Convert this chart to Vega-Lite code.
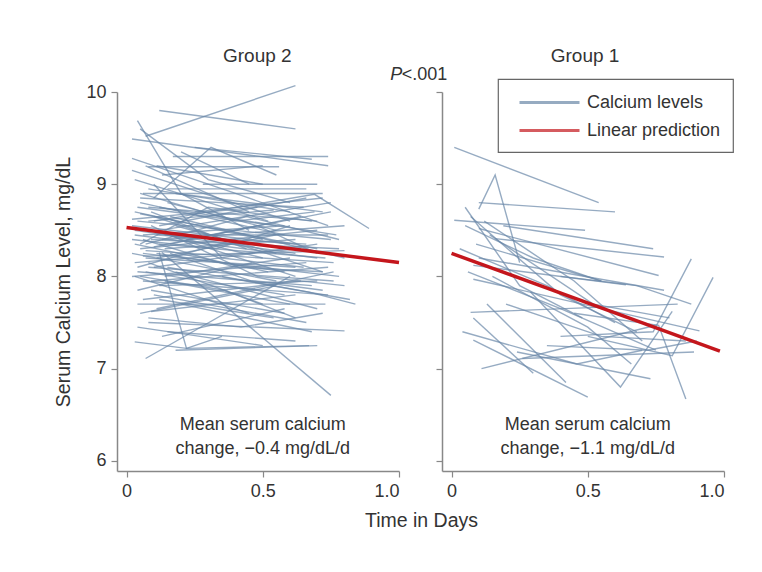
{
  "$schema": "https://vega.github.io/schema/vega-lite/v6.json",
  "padding": {"left": 53, "top": 47, "right": 20, "bottom": 40},
  "background": "white",
  "datasets": {
    "g2": [
      {"id":1,"t":0.07,"v":9.52},{"id":1,"t":0.62,"v":10.07},
      {"id":2,"t":0.12,"v":9.80},{"id":2,"t":0.62,"v":9.60},
      {"id":3,"t":0.04,"v":9.69},{"id":3,"t":0.20,"v":8.90},{"id":3,"t":0.45,"v":8.50},
      {"id":4,"t":0.02,"v":9.49},{"id":4,"t":0.74,"v":9.20},
      {"id":5,"t":0.17,"v":9.30},{"id":5,"t":0.74,"v":9.30},
      {"id":6,"t":0.05,"v":9.60},{"id":6,"t":0.30,"v":9.05},{"id":6,"t":0.60,"v":8.80},
      {"id":7,"t":0.08,"v":9.19},{"id":7,"t":0.56,"v":9.19},
      {"id":8,"t":0.02,"v":9.28},{"id":8,"t":0.40,"v":8.90},{"id":8,"t":0.74,"v":8.55},
      {"id":9,"t":0.10,"v":8.85},{"id":9,"t":0.31,"v":9.40},{"id":9,"t":0.55,"v":9.10},
      {"id":10,"t":0.02,"v":9.15},{"id":10,"t":0.60,"v":8.60},
      {"id":11,"t":0.06,"v":8.90},{"id":11,"t":0.72,"v":8.90},
      {"id":12,"t":0.10,"v":8.60},{"id":12,"t":0.69,"v":8.89},{"id":12,"t":0.89,"v":8.52},
      {"id":13,"t":0.03,"v":8.70},{"id":13,"t":0.50,"v":8.40},
      {"id":14,"t":0.05,"v":8.85},{"id":14,"t":0.65,"v":8.75},
      {"id":15,"t":0.08,"v":8.75},{"id":15,"t":0.70,"v":8.60},
      {"id":16,"t":0.12,"v":8.55},{"id":16,"t":0.66,"v":8.85},
      {"id":17,"t":0.04,"v":8.60},{"id":17,"t":0.75,"v":8.40},
      {"id":18,"t":0.06,"v":8.45},{"id":18,"t":0.58,"v":8.55},
      {"id":19,"t":0.03,"v":8.50},{"id":19,"t":0.62,"v":8.25},
      {"id":20,"t":0.09,"v":8.40},{"id":20,"t":0.78,"v":8.30},
      {"id":21,"t":0.15,"v":8.80},{"id":21,"t":0.55,"v":8.50},
      {"id":22,"t":0.05,"v":8.30},{"id":22,"t":0.70,"v":8.50},
      {"id":23,"t":0.07,"v":8.20},{"id":23,"t":0.62,"v":8.10},
      {"id":24,"t":0.12,"v":8.35},{"id":24,"t":0.73,"v":8.20},
      {"id":25,"t":0.02,"v":8.25},{"id":25,"t":0.55,"v":7.95},
      {"id":26,"t":0.10,"v":8.10},{"id":26,"t":0.70,"v":8.35},
      {"id":27,"t":0.04,"v":8.05},{"id":27,"t":0.68,"v":7.90},
      {"id":28,"t":0.14,"v":8.00},{"id":28,"t":0.60,"v":8.20},
      {"id":29,"t":0.06,"v":7.95},{"id":29,"t":0.74,"v":7.80},
      {"id":30,"t":0.08,"v":8.15},{"id":30,"t":0.50,"v":7.70},
      {"id":31,"t":0.13,"v":8.26},{"id":31,"t":0.75,"v":6.71},
      {"id":32,"t":0.03,"v":7.29},{"id":32,"t":0.22,"v":7.22},{"id":32,"t":0.67,"v":7.25},
      {"id":33,"t":0.08,"v":7.50},{"id":33,"t":0.80,"v":7.41},
      {"id":34,"t":0.04,"v":7.70},{"id":34,"t":0.73,"v":7.70},
      {"id":35,"t":0.12,"v":8.26},{"id":35,"t":0.22,"v":7.22},{"id":35,"t":0.35,"v":7.35},
      {"id":36,"t":0.35,"v":8.00},{"id":36,"t":0.67,"v":7.83},{"id":36,"t":0.84,"v":7.70},
      {"id":37,"t":0.07,"v":7.11},{"id":37,"t":0.60,"v":8.00},
      {"id":38,"t":0.10,"v":7.80},{"id":38,"t":0.66,"v":7.50},
      {"id":39,"t":0.05,"v":7.60},{"id":39,"t":0.55,"v":7.90},
      {"id":40,"t":0.15,"v":7.40},{"id":40,"t":0.62,"v":7.30},
      {"id":41,"t":0.09,"v":7.85},{"id":41,"t":0.58,"v":7.60},
      {"id":42,"t":0.18,"v":7.20},{"id":42,"t":0.70,"v":7.25},
      {"id":43,"t":0.03,"v":8.00},{"id":43,"t":0.45,"v":7.60},
      {"id":44,"t":0.11,"v":7.65},{"id":44,"t":0.76,"v":8.05},
      {"id":45,"t":0.06,"v":8.40},{"id":45,"t":0.40,"v":8.10},{"id":45,"t":0.72,"v":8.05},
      {"id":46,"t":0.16,"v":8.65},{"id":46,"t":0.80,"v":8.20},
      {"id":47,"t":0.02,"v":8.62},{"id":47,"t":0.48,"v":8.75},
      {"id":48,"t":0.08,"v":8.95},{"id":48,"t":0.60,"v":8.70},
      {"id":49,"t":0.13,"v":9.10},{"id":49,"t":0.50,"v":9.20},
      {"id":50,"t":0.20,"v":9.35},{"id":50,"t":0.45,"v":9.00},
      {"id":51,"t":0.05,"v":8.35},{"id":51,"t":0.30,"v":8.75},{"id":51,"t":0.68,"v":8.60},
      {"id":52,"t":0.10,"v":8.50},{"id":52,"t":0.62,"v":8.00},
      {"id":53,"t":0.03,"v":8.15},{"id":53,"t":0.64,"v":8.30},
      {"id":54,"t":0.07,"v":8.05},{"id":54,"t":0.58,"v":7.80},
      {"id":55,"t":0.12,"v":7.90},{"id":55,"t":0.70,"v":7.95},
      {"id":56,"t":0.04,"v":7.85},{"id":56,"t":0.46,"v":8.15},
      {"id":57,"t":0.14,"v":8.45},{"id":57,"t":0.74,"v":8.45},
      {"id":58,"t":0.09,"v":8.70},{"id":58,"t":0.44,"v":8.30},
      {"id":59,"t":0.05,"v":8.80},{"id":59,"t":0.58,"v":8.45},
      {"id":60,"t":0.18,"v":8.90},{"id":60,"t":0.72,"v":8.70},
      {"id":61,"t":0.03,"v":9.05},{"id":61,"t":0.52,"v":8.60},
      {"id":62,"t":0.10,"v":9.00},{"id":62,"t":0.35,"v":8.20},{"id":62,"t":0.65,"v":8.10},
      {"id":63,"t":0.07,"v":8.28},{"id":63,"t":0.76,"v":8.15},
      {"id":64,"t":0.02,"v":8.40},{"id":64,"t":0.33,"v":8.30},{"id":64,"t":0.60,"v":8.55},
      {"id":65,"t":0.11,"v":8.20},{"id":65,"t":0.55,"v":8.45},
      {"id":66,"t":0.15,"v":8.10},{"id":66,"t":0.82,"v":7.75},
      {"id":67,"t":0.06,"v":7.75},{"id":67,"t":0.64,"v":7.95},
      {"id":68,"t":0.08,"v":7.55},{"id":68,"t":0.42,"v":7.45},{"id":68,"t":0.72,"v":7.60},
      {"id":69,"t":0.13,"v":7.35},{"id":69,"t":0.58,"v":7.65},
      {"id":70,"t":0.04,"v":7.45},{"id":70,"t":0.50,"v":7.25},
      {"id":71,"t":0.20,"v":7.70},{"id":71,"t":0.68,"v":7.40},
      {"id":72,"t":0.09,"v":8.55},{"id":72,"t":0.48,"v":8.00},{"id":72,"t":0.80,"v":7.90},
      {"id":73,"t":0.05,"v":8.68},{"id":73,"t":0.70,"v":8.30},
      {"id":74,"t":0.16,"v":8.35},{"id":74,"t":0.64,"v":8.65},
      {"id":75,"t":0.02,"v":8.55},{"id":75,"t":0.60,"v":8.35},
      {"id":76,"t":0.12,"v":8.75},{"id":76,"t":0.77,"v":8.45},
      {"id":77,"t":0.07,"v":9.20},{"id":77,"t":0.45,"v":8.70},
      {"id":78,"t":0.18,"v":8.55},{"id":78,"t":0.55,"v":8.25},
      {"id":79,"t":0.25,"v":8.70},{"id":79,"t":0.72,"v":8.85},
      {"id":80,"t":0.10,"v":8.32},{"id":80,"t":0.48,"v":8.55},{"id":80,"t":0.70,"v":8.25},
      {"id":81,"t":0.04,"v":8.10},{"id":81,"t":0.40,"v":8.40},
      {"id":82,"t":0.14,"v":7.95},{"id":82,"t":0.60,"v":7.70},
      {"id":83,"t":0.06,"v":8.25},{"id":83,"t":0.78,"v":8.00},
      {"id":84,"t":0.22,"v":8.40},{"id":84,"t":0.75,"v":8.70},
      {"id":85,"t":0.08,"v":8.60},{"id":85,"t":0.54,"v":8.72},
      {"id":86,"t":0.03,"v":8.35},{"id":86,"t":0.52,"v":8.05},
      {"id":87,"t":0.11,"v":8.45},{"id":87,"t":0.66,"v":8.35},
      {"id":88,"t":0.16,"v":8.25},{"id":88,"t":0.46,"v":7.95},{"id":88,"t":0.72,"v":7.85},
      {"id":89,"t":0.09,"v":7.95},{"id":89,"t":0.74,"v":8.10},
      {"id":90,"t":0.05,"v":8.00},{"id":90,"t":0.36,"v":7.85},{"id":90,"t":0.62,"v":7.55},
      {"id":91,"t":0.25,"v":9.40},{"id":91,"t":0.68,"v":9.27},
      {"id":92,"t":0.11,"v":9.20},{"id":92,"t":0.50,"v":9.00},
      {"id":93,"t":0.28,"v":9.00},{"id":93,"t":0.70,"v":9.00},
      {"id":94,"t":0.12,"v":8.50},{"id":94,"t":0.75,"v":8.80},
      {"id":95,"t":0.03,"v":8.45},{"id":95,"t":0.70,"v":8.20},
      {"id":96,"t":0.06,"v":8.22},{"id":96,"t":0.80,"v":8.28},
      {"id":97,"t":0.10,"v":8.65},{"id":97,"t":0.72,"v":8.05},
      {"id":98,"t":0.14,"v":8.30},{"id":98,"t":0.62,"v":8.40},
      {"id":99,"t":0.04,"v":8.75},{"id":99,"t":0.55,"v":8.55},
      {"id":100,"t":0.08,"v":8.10},{"id":100,"t":0.76,"v":7.95},
      {"id":101,"t":0.12,"v":7.75},{"id":101,"t":0.54,"v":7.55},
      {"id":102,"t":0.07,"v":8.35},{"id":102,"t":0.44,"v":8.65},{"id":102,"t":0.78,"v":8.40},
      {"id":103,"t":0.02,"v":8.00},{"id":103,"t":0.66,"v":8.15},
      {"id":104,"t":0.18,"v":8.05},{"id":104,"t":0.70,"v":7.65},
      {"id":105,"t":0.05,"v":8.90},{"id":105,"t":0.40,"v":8.60},{"id":105,"t":0.69,"v":8.70},
      {"id":106,"t":0.11,"v":8.25},{"id":106,"t":0.58,"v":8.05},
      {"id":107,"t":0.09,"v":7.62},{"id":107,"t":0.62,"v":7.80},
      {"id":108,"t":0.15,"v":8.95},{"id":108,"t":0.66,"v":8.95},
      {"id":109,"t":0.06,"v":8.52},{"id":109,"t":0.50,"v":8.20},
      {"id":110,"t":0.13,"v":8.40},{"id":110,"t":0.80,"v":8.55}
    ],
    "g1": [
      {"id":1,"t":0.01,"v":9.40},{"id":1,"t":0.54,"v":8.80},
      {"id":2,"t":0.10,"v":8.73},{"id":2,"t":0.16,"v":9.10},{"id":2,"t":0.25,"v":8.15},
      {"id":3,"t":0.10,"v":8.80},{"id":3,"t":0.60,"v":8.70},
      {"id":4,"t":0.01,"v":8.61},{"id":4,"t":0.49,"v":8.50},
      {"id":5,"t":0.16,"v":8.41},{"id":5,"t":0.78,"v":8.21},
      {"id":6,"t":0.10,"v":8.52},{"id":6,"t":0.76,"v":8.01},
      {"id":7,"t":0.08,"v":8.12},{"id":7,"t":0.64,"v":7.91},
      {"id":8,"t":0.29,"v":7.83},{"id":8,"t":0.62,"v":6.80},{"id":8,"t":0.81,"v":7.62},
      {"id":9,"t":0.07,"v":7.61},{"id":9,"t":0.83,"v":7.70},
      {"id":10,"t":0.11,"v":7.00},{"id":10,"t":0.75,"v":7.47},
      {"id":11,"t":0.08,"v":7.31},{"id":11,"t":0.50,"v":6.69},
      {"id":12,"t":0.40,"v":7.35},{"id":12,"t":0.74,"v":7.40},{"id":12,"t":0.88,"v":8.19},
      {"id":13,"t":0.50,"v":7.35},{"id":13,"t":0.81,"v":7.14},{"id":13,"t":0.96,"v":7.99},
      {"id":14,"t":0.45,"v":7.60},{"id":14,"t":0.76,"v":7.47},{"id":14,"t":0.86,"v":6.67},
      {"id":15,"t":0.24,"v":7.18},{"id":15,"t":0.73,"v":6.89},
      {"id":16,"t":0.26,"v":7.11},{"id":16,"t":0.89,"v":7.18},
      {"id":17,"t":0.08,"v":7.97},{"id":17,"t":0.91,"v":7.41},
      {"id":18,"t":0.05,"v":8.55},{"id":18,"t":0.30,"v":8.20},{"id":18,"t":0.55,"v":7.95},
      {"id":19,"t":0.05,"v":8.75},{"id":19,"t":0.25,"v":7.90},{"id":19,"t":0.48,"v":7.55},
      {"id":20,"t":0.07,"v":8.65},{"id":20,"t":0.40,"v":7.80},{"id":20,"t":0.68,"v":7.40},
      {"id":21,"t":0.12,"v":8.60},{"id":21,"t":0.45,"v":7.95},{"id":21,"t":0.70,"v":7.30},
      {"id":22,"t":0.03,"v":8.30},{"id":22,"t":0.35,"v":7.90},{"id":22,"t":0.60,"v":7.50},
      {"id":23,"t":0.14,"v":8.45},{"id":23,"t":0.52,"v":7.70},{"id":23,"t":0.80,"v":7.55},
      {"id":24,"t":0.06,"v":8.05},{"id":24,"t":0.40,"v":7.65},{"id":24,"t":0.75,"v":7.20},
      {"id":25,"t":0.09,"v":8.35},{"id":25,"t":0.55,"v":7.95},
      {"id":26,"t":0.15,"v":8.00},{"id":26,"t":0.50,"v":7.45},{"id":26,"t":0.66,"v":7.05},
      {"id":27,"t":0.20,"v":7.70},{"id":27,"t":0.55,"v":7.35},{"id":27,"t":0.86,"v":7.30},
      {"id":28,"t":0.04,"v":7.40},{"id":28,"t":0.46,"v":7.05},{"id":28,"t":0.70,"v":7.20},
      {"id":29,"t":0.10,"v":8.20},{"id":29,"t":0.78,"v":7.85},
      {"id":30,"t":0.40,"v":8.00},{"id":30,"t":0.68,"v":7.90},{"id":30,"t":0.88,"v":7.70},
      {"id":31,"t":0.19,"v":8.55},{"id":31,"t":0.74,"v":8.30},
      {"id":32,"t":0.13,"v":7.70},{"id":32,"t":0.42,"v":6.85},
      {"id":33,"t":0.35,"v":7.25},{"id":33,"t":0.72,"v":7.20},{"id":33,"t":0.90,"v":7.30},
      {"id":34,"t":0.08,"v":7.55},{"id":34,"t":0.30,"v":6.95}
    ],
    "fit": [
      {"g":"Group 2","t":0.0,"v":8.53},{"g":"Group 2","t":1.0,"v":8.15},
      {"g":"Group 1","t":0.0,"v":8.25},{"g":"Group 1","t":0.985,"v":7.19}
    ],
    "note": [
      {"g":"Group 2","t":0.5,"v":6.33,"txt":["Mean serum calcium","change, \u22120.4 mg/dL/d"]},
      {"g":"Group 1","t":0.5,"v":6.33,"txt":["Mean serum calcium","change, \u22121.1 mg/dL/d"]}
    ],
    "head": [
      {"g":"Group 2","t":0.48,"v":10.325,"txt":"Group 2"},
      {"g":"Group 1","t":0.49,"v":10.325,"txt":"Group 1"}
    ]
  },
  "spacing": 43,
  "bounds": "flush",
  "hconcat": [
    {
      "width": 282,
      "height": 379,
      "layer": [
        {
          "data": {"name": "g2"},
          "mark": {"type": "line", "strokeWidth": 1.4, "opacity": 0.7},
          "encoding": {
            "x": {"field": "t", "type": "quantitative", "scale": {"domain": [-0.035, 1.0], "nice": false, "zero": false},
                  "axis": {"values": [0, 0.5, 1], "labelExpr": "datum.value == 0 ? '0' : format(datum.value, '.1f')",
                           "title": "Time in Days", "titleX": 304, "titleY": 55, "titleBaseline": "alphabetic", "titleAlign": "center", "titleAnchor": null}},
            "y": {"field": "v", "type": "quantitative", "scale": {"domain": [5.89, 10], "nice": false, "zero": false},
                  "axis": {"values": [6, 7, 8, 9, 10], "format": "d", "title": "Serum Calcium Level, mg/dL"}},
            "detail": {"field": "id"},
            "color": {"datum": "Calcium levels", "type": "nominal"}
          }
        },
        {
          "data": {"name": "fit"},
          "transform": [{"filter": "datum.g == 'Group 2'"}],
          "mark": {"type": "line", "strokeWidth": 3.5},
          "encoding": {
            "x": {"field": "t", "type": "quantitative"},
            "y": {"field": "v", "type": "quantitative"},
            "color": {"datum": "Linear prediction", "type": "nominal"}
          }
        },
        {
          "data": {"name": "note"},
          "transform": [{"filter": "datum.g == 'Group 2'"}],
          "mark": {"type": "text", "fontSize": 18, "lineHeight": 24, "align": "center", "baseline": "alphabetic", "color": "#333"},
          "encoding": {
            "x": {"field": "t", "type": "quantitative"},
            "y": {"field": "v", "type": "quantitative"},
            "text": {"field": "txt"}
          }
        },
        {
          "data": {"name": "head"},
          "transform": [{"filter": "datum.g == 'Group 2'"}],
          "mark": {"type": "text", "fontSize": 19, "align": "center", "baseline": "alphabetic", "color": "#333"},
          "encoding": {
            "x": {"field": "t", "type": "quantitative"},
            "y": {"field": "v", "type": "quantitative"},
            "text": {"field": "txt"}
          }
        },
        {
          "data": {"values": [{"t": 0.968, "v": 10.13, "txt": "P"}]},
          "mark": {"type": "text", "fontSize": 18, "fontStyle": "italic", "align": "left", "baseline": "alphabetic", "color": "#333"},
          "encoding": {
            "x": {"field": "t", "type": "quantitative"},
            "y": {"field": "v", "type": "quantitative"},
            "text": {"field": "txt"}
          }
        },
        {
          "data": {"values": [{"t": 1.01, "v": 10.13, "txt": "<.001"}]},
          "mark": {"type": "text", "fontSize": 18, "align": "left", "baseline": "alphabetic", "color": "#333"},
          "encoding": {
            "x": {"field": "t", "type": "quantitative"},
            "y": {"field": "v", "type": "quantitative"},
            "text": {"field": "txt"}
          }
        }
      ]
    },
    {
      "width": 282,
      "height": 379,
      "layer": [
        {
          "data": {"name": "g1"},
          "mark": {"type": "line", "strokeWidth": 1.4, "opacity": 0.7},
          "encoding": {
            "x": {"field": "t", "type": "quantitative", "scale": {"domain": [-0.035, 1.0], "nice": false, "zero": false},
                  "axis": {"values": [0, 0.5, 1], "labelExpr": "datum.value == 0 ? '0' : format(datum.value, '.1f')", "title": null}},
            "y": {"field": "v", "type": "quantitative", "scale": {"domain": [5.89, 10], "nice": false, "zero": false},
                  "axis": {"values": [6, 7, 8, 9, 10], "labels": false, "title": null}},
            "detail": {"field": "id"},
            "color": {"datum": "Calcium levels", "type": "nominal"}
          }
        },
        {
          "data": {"name": "fit"},
          "transform": [{"filter": "datum.g == 'Group 1'"}],
          "mark": {"type": "line", "strokeWidth": 3.5},
          "encoding": {
            "x": {"field": "t", "type": "quantitative"},
            "y": {"field": "v", "type": "quantitative"},
            "color": {"datum": "Linear prediction", "type": "nominal"}
          }
        },
        {
          "data": {"name": "note"},
          "transform": [{"filter": "datum.g == 'Group 1'"}],
          "mark": {"type": "text", "fontSize": 18, "lineHeight": 24, "align": "center", "baseline": "alphabetic", "color": "#333"},
          "encoding": {
            "x": {"field": "t", "type": "quantitative"},
            "y": {"field": "v", "type": "quantitative"},
            "text": {"field": "txt"}
          }
        },
        {
          "data": {"name": "head"},
          "transform": [{"filter": "datum.g == 'Group 1'"}],
          "mark": {"type": "text", "fontSize": 19, "align": "center", "baseline": "alphabetic", "color": "#333"},
          "encoding": {
            "x": {"field": "t", "type": "quantitative"},
            "y": {"field": "v", "type": "quantitative"},
            "text": {"field": "txt"}
          }
        }
      ]
    }
  ],
  "resolve": {"scale": {"color": "shared"}},
  "config": {
    "font": "Liberation Sans",
    "view": {"stroke": null},
    "axis": {
      "grid": false, "domainColor": "#888", "domainWidth": 1.5, "tickColor": "#888", "tickWidth": 1.2, "tickSize": 6,
      "labelFontSize": 18, "labelColor": "#333", "labelPadding": 5, "titleFontSize": 19.5, "titleFontWeight": "normal", "titleColor": "#333"
    },
    "axisY": {"titlePadding": 12},
    "range": {"category": ["#6a88a8", "#c4161c"]},
    "legend": {
      "orient": "none", "legendX": 381, "legendY": -13, "title": null,
      "strokeColor": "#666", "strokeWidth": 1.2, "padding": 12, "symbolType": "M-0.2,0H5.8", "symbolSize": 400,
      "symbolStrokeWidth": 3, "symbolFillColor": "transparent",
      "labelFontSize": 18, "labelColor": "#333", "rowPadding": 7, "labelOffset": 54,
      "labelExpr": "datum.label + '   '"
    }
  }
}
